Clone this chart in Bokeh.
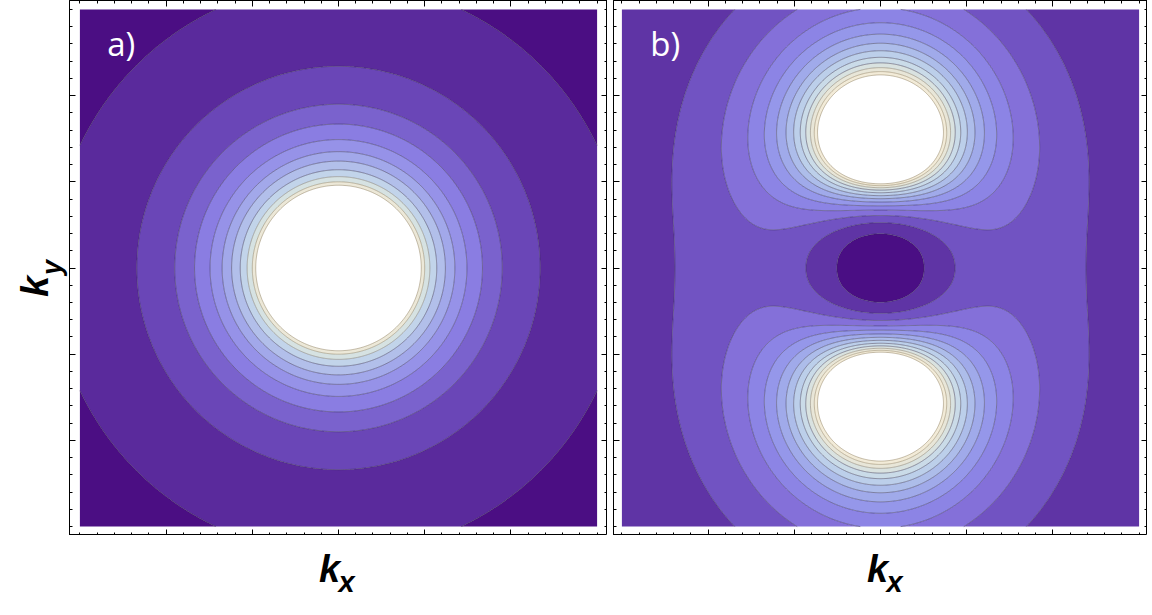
import numpy as np
from bokeh.plotting import figure
from bokeh.models import Range1d, FixedTicker, LinearAxis
from bokeh.core.properties import value
from bokeh.layouts import row, column
from bokeh.embed import file_html
from bokeh.resources import INLINE

# ---------------- data ----------------
# panel a: radii of the circular contour lines (k units), outermost first
radii_a = [3.32, 2.34, 1.90, 1.67, 1.49, 1.35, 1.24, 1.14, 1.06, 1.00, 0.96]
# fill of the band just outside each radius (outermost band first)
colors_a = ["#4b0e83", "#5a2a9c", "#6a46b7", "#7a62cd", "#8a7de2", "#9692e8",
            "#a2a8ea", "#b2bfea", "#c2d4ea", "#d6e2e2", "#ece8d8"]

# panel b: two maxima on the ky axis and a central minimum
peak_ky_b = [1.53, -1.53]
dip_width_b = [1.265, 1.017]        # kx, ky widths of the central dip
levels_b = [0.114, 0.242, 0.37, 0.5, 0.63, 0.77, 0.92, 1.08, 1.26, 1.45, 1.65, 1.85, 2.05]
colors_b = ["#4a0e84", "#5f34a5", "#7153c2", "#8470d9", "#8c84e5", "#9597ea", "#a0aaea",
            "#adbdea", "#bccfea", "#cadbe8", "#d9e2e0", "#e8e6d8", "#f2ebd8"]

panel_tags = ["a)", "b)"]
axis_letter = "k"
axis_subs = ["x", "y"]
major_ticks = [-2, -1, 0, 1, 2]
minor_ticks = [round(-3 + 0.2 * i, 2) for i in range(31)]

# ---------------- fields ----------------
k = np.linspace(-3, 3, 481)
KX, KY = np.meshgrid(k, k)

R = np.sqrt(KX ** 2 + KY ** 2)
levels_a = sorted(radii_a) + [99.0]
fill_a = list(reversed(colors_a))
lines_a = ["#8a7a5a", "#8a7a5a", "#7a7060"] + ["#3a3450"] * (len(levels_a) - 3)

base = 0.0
for c in peak_ky_b:
    rho2 = KX ** 2 + (KY - c) ** 2
    squeeze = 1.0 - 0.22 * np.exp(-rho2 / 0.6)
    base = base + 1.0 / (KX ** 2 * squeeze + (KY - c) ** 2 + 1e-6)
mod = 1.0 - np.exp(-(KX / dip_width_b[0]) ** 2 - np.abs(KY / dip_width_b[1]) ** 2.3)
FB = np.minimum(base * mod, 50.0)
levels_bb = [-1.0] + levels_b
lines_b = ["#3a3450"] * (len(levels_bb) - 3) + ["#7a7060", "#8a7a5a", "#8a7a5a"]

PX = 86.2  # px per k unit
FRAME_H = 535


def make_fig(frame_w, bl):
    xh = frame_w / PX / 2
    yh = FRAME_H / PX / 2
    p = figure(frame_width=frame_w, frame_height=FRAME_H,
               x_range=Range1d(-xh, xh), y_range=Range1d(-yh, yh),
               output_backend="svg", toolbar_location=None,
               min_border_left=bl, min_border_right=0,
               min_border_top=0, min_border_bottom=0)
    p.grid.visible = False
    p.outline_line_color = "black"
    p.add_layout(LinearAxis(), "above")
    p.add_layout(LinearAxis(), "right")
    for ax in p.axis:
        ax.ticker = FixedTicker(ticks=major_ticks, minor_ticks=minor_ticks)
        ax.major_tick_in = 6
        ax.major_tick_out = 0
        ax.minor_tick_in = 3
        ax.minor_tick_out = 0
        ax.major_label_text_font_size = "0px"
        ax.major_label_text_color = None
        ax.major_label_standoff = 0
        ax.axis_line_color = "black"
        ax.major_tick_line_color = "black"
        ax.minor_tick_line_color = "black"
    return p, xh, yh


def label_fig(w, h):
    f = figure(frame_width=w, frame_height=h, x_range=Range1d(0, w), y_range=Range1d(0, h),
               output_backend="svg", toolbar_location=None, min_border=0,
               x_axis_location=None, y_axis_location=None)
    f.grid.visible = False
    f.outline_line_color = None
    return f


BOLD = dict(text_font=value("Liberation Sans"), text_font_style="bold italic",
            text_color="black", text_align="center", text_baseline="middle")

p1, xh1, yh1 = make_fig(538, 0)
p1.contour(k, k, R, levels_a, fill_color=fill_a, line_color=lines_a,
           line_alpha=0.55, line_width=0.9)

p2, xh2, yh2 = make_fig(534, 6)
p2.contour(k, k, FB, levels_bb, fill_color=colors_b, line_color=lines_b,
           line_alpha=0.55, line_width=0.9)

for p, tag, xh in ((p1, panel_tags[0], xh1), (p2, panel_tags[1], xh2)):
    p.text(x=[-xh + 0.6], y=[yh1 - 0.5], text=[tag], text_color="white",
           text_font=value("Open Sans"), text_font_size="33px",
           text_align="center", text_baseline="middle")

# x-axis labels, one strip under each panel
LAB_H = 70
xl1 = label_fig(538, LAB_H)
xl2 = label_fig(540, LAB_H)
for f, cx in ((xl1, 538 / 2), (xl2, 6 + 534 / 2)):
    f.text(x=[cx - 9], y=[LAB_H - 33], text=[axis_letter], text_font_size="38px", **BOLD)
    f.text(x=[cx + 8], y=[LAB_H - 46], text=[axis_subs[0]], text_font_size="29px", **BOLD)

# y-axis label strip on the left
YL_W = 69
YL_H = FRAME_H + LAB_H
yl = label_fig(YL_W, YL_H)
yl.text(x=[34], y=[YL_H - 286], text=[axis_letter], angle=np.pi / 2,
        text_font_size="38px", **BOLD)
yl.text(x=[51], y=[YL_H - 267], text=[axis_subs[1]], angle=np.pi / 2,
        text_font_size="27px", **BOLD)

layout = row(yl, column(p1, xl1), column(p2, xl2))
open("out.html", "w").write(file_html(layout, INLINE))
